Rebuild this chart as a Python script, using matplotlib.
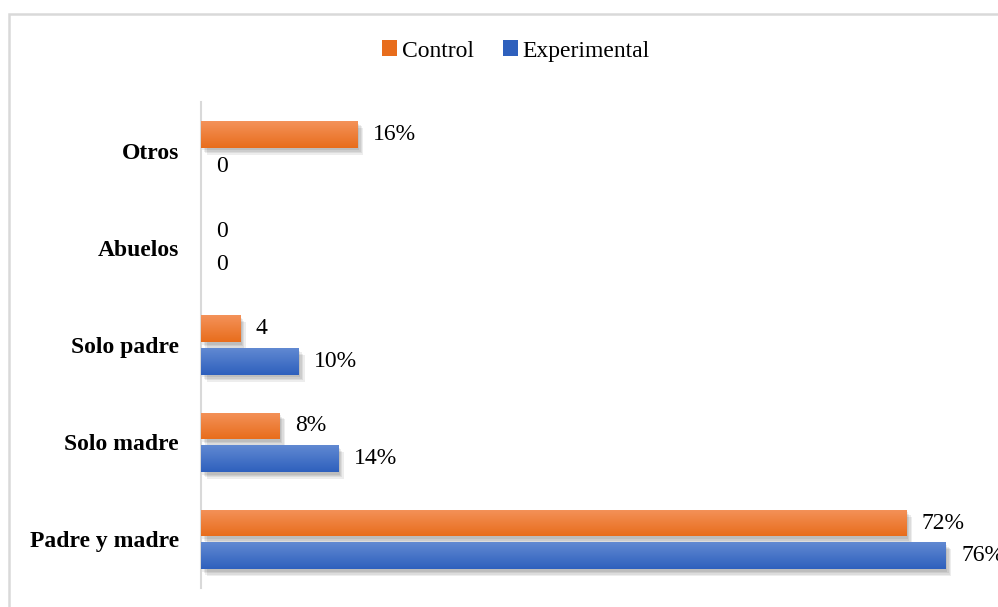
import numpy as np
import matplotlib
matplotlib.use("Agg")
import matplotlib.pyplot as plt
import matplotlib.patheffects as pe
from matplotlib.patches import Patch, Rectangle
from matplotlib.colors import to_rgb

plt.rcParams['font.family'] = ['Liberation Serif', 'DejaVu Serif']

categories = ["Padre y madre", "Solo madre", "Solo padre", "Abuelos", "Otros"]
control = [72, 8, 4, 0, 16]
experimental = [76, 14, 10, 0, 0]
control_labels = ["72%", "8%", "4", "0", "16%"]
experimental_labels = ["76%", "14%", "10%", "0", "0"]

orange_top, orange_bot = "#f4925a", "#e86d1c"
blue_top, blue_bot = "#6189d2", "#2e60bd"

fig = plt.figure(figsize=(9.98, 6.07), dpi=100)
ax = fig.add_axes([201 / 998, 19 / 607, 784 / 998, 486 / 607])

y = np.arange(len(categories))
off = 0.168
h = 0.275

# soft drop shadow built from a few faint offset copies
shadow = [pe.SimplePatchShadow(offset=(d, -d - 1), shadow_rgbFace="k", alpha=0.07) for d in (1, 2, 3, 4)]


def gradient_bars(ypos, values, top, bot):
    bars = ax.barh(ypos, values, height=h, color=bot, linewidth=0, zorder=2)
    t, b = np.array(to_rgb(top)), np.array(to_rgb(bot))
    f = np.linspace(0, 1, 64)[:, None]
    grad = (t * (1 - f) + b * f)[:, None, :]
    for bar, v in zip(bars, values):
        if v == 0:
            continue
        bar.set_path_effects(shadow + [pe.Normal()])
        x0, y0 = bar.get_x(), bar.get_y()
        im = ax.imshow(grad, extent=(x0, x0 + bar.get_width(), y0, y0 + bar.get_height()),
                       aspect="auto", interpolation="bilinear", zorder=3)
        im.set_clip_path(bar)
    return bars


gradient_bars(y + off, control, orange_top, orange_bot)
gradient_bars(y - off, experimental, blue_top, blue_bot)

for yi, v, lab in zip(y + off, control, control_labels):
    ax.annotate(lab, xy=(v, yi), xytext=(11, 0), textcoords="offset points",
                va="center", ha="left", fontsize=17)
for yi, v, lab in zip(y - off, experimental, experimental_labels):
    ax.annotate(lab, xy=(v, yi), xytext=(11, 0), textcoords="offset points",
                va="center", ha="left", fontsize=17, annotation_clip=False)

ax.set_xlim(0, 80)
ax.set_ylim(-0.5, len(categories) - 0.5)
ax.set_yticks(y)
ax.set_yticklabels(categories, fontsize=17, fontweight="bold")
ax.tick_params(axis="y", length=0, pad=16)
ax.set_xticks([])
for s in ["top", "right", "bottom"]:
    ax.spines[s].set_visible(False)
ax.spines["left"].set_color("#d9d9d9")
ax.spines["left"].set_linewidth(1.5)

handles = [Patch(facecolor=orange_bot, label="Control"),
           Patch(facecolor=blue_bot, label="Experimental")]
fig.legend(handles=handles, loc="center", bbox_to_anchor=(516 / 998, 1 - 51 / 607), ncol=2,
           frameon=False, fontsize=17, handlelength=0.65, handleheight=0.65,
           handletextpad=0.2, columnspacing=1.2)

# outer chart frame
fig.patches.append(Rectangle((9 / 998, -0.1), 1.2, 1.1 - 14 / 607, transform=fig.transFigure,
                             fill=False, edgecolor="#d9d9d9", linewidth=1.8))

fig.savefig("out.png", dpi=100)
